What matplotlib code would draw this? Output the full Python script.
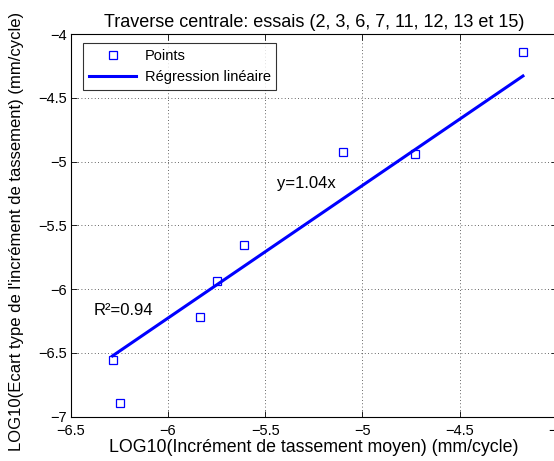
import matplotlib
matplotlib.use("Agg")
import matplotlib.pyplot as plt
import numpy as np

plt.rcParams['font.family'] = ['Liberation Sans', 'DejaVu Sans']

x_points = [-6.285, -6.247, -5.837, -5.750, -5.608, -5.098, -4.729, -4.175]
y_points = [-6.553, -6.889, -6.218, -5.933, -5.654, -4.927, -4.943, -4.141]
reg_slope = 1.04
reg_intercept = 0.013
x_ticks = [-6.5, -6, -5.5, -5, -4.5, -4]
y_ticks = [-7, -6.5, -6, -5.5, -5, -4.5, -4]

fig = plt.figure(figsize=(5.54, 4.61), dpi=100)
ax = fig.add_axes([0.1276, 0.0961, 0.8778, 0.8301])

ax.plot(x_points, y_points, 's', mfc='none', mec='blue', ms=5.5, mew=0.9, label='Points', zorder=3)
xr = np.array([min(x_points), max(x_points)])
ax.plot(xr, reg_slope * xr + reg_intercept, '-', color='blue', lw=2.2, label='Régression linéaire', zorder=2)

ax.set_xlim(-6.5, -4)
ax.set_ylim(-7, -4)
ax.set_xticks(x_ticks)
ax.set_yticks(y_ticks)
ax.set_xticklabels([('%g' % v).replace('-', '\u2212') for v in x_ticks])
ax.set_yticklabels([('%g' % v).replace('-', '\u2212') for v in y_ticks])
ax.tick_params(direction='in', top=True, right=True, labelsize=10.5, length=4, width=0.6)
ax.tick_params(axis='x', pad=5)
ax.tick_params(axis='y', pad=3)
ax.grid(True, linestyle=(0, (1, 3)), color='black', lw=0.6, alpha=0.8)
for s in ax.spines.values():
    s.set_linewidth(0.8)

ax.set_title('Traverse centrale: essais (2, 3, 6, 7, 11, 12, 13 et 15)', fontsize=13, pad=5)
ax.set_xlabel('LOG10(Incrément de tassement moyen) (mm/cycle)', fontsize=12.8, labelpad=1)
ax.set_ylabel("LOG10(Ecart type de l'incrément de tassement) (mm/cycle)", fontsize=12)
ax.yaxis.set_label_coords(-0.095, 0.485)

ax.text(-5.437, -5.168, 'y=1.04x', fontsize=12, va='center', ha='left')
ax.text(-6.384, -6.168, 'R²=0.94', fontsize=12, va='center', ha='left')

leg = ax.legend(loc='upper left', bbox_to_anchor=(0.026, 0.976), fontsize=10.5, frameon=True,
                fancybox=False, edgecolor='black', borderpad=0.4, handlelength=3.2,
                handletextpad=0.6, labelspacing=0.5, borderaxespad=0)
leg.get_frame().set_linewidth(0.8)

fig.savefig('out.png', dpi=100)
